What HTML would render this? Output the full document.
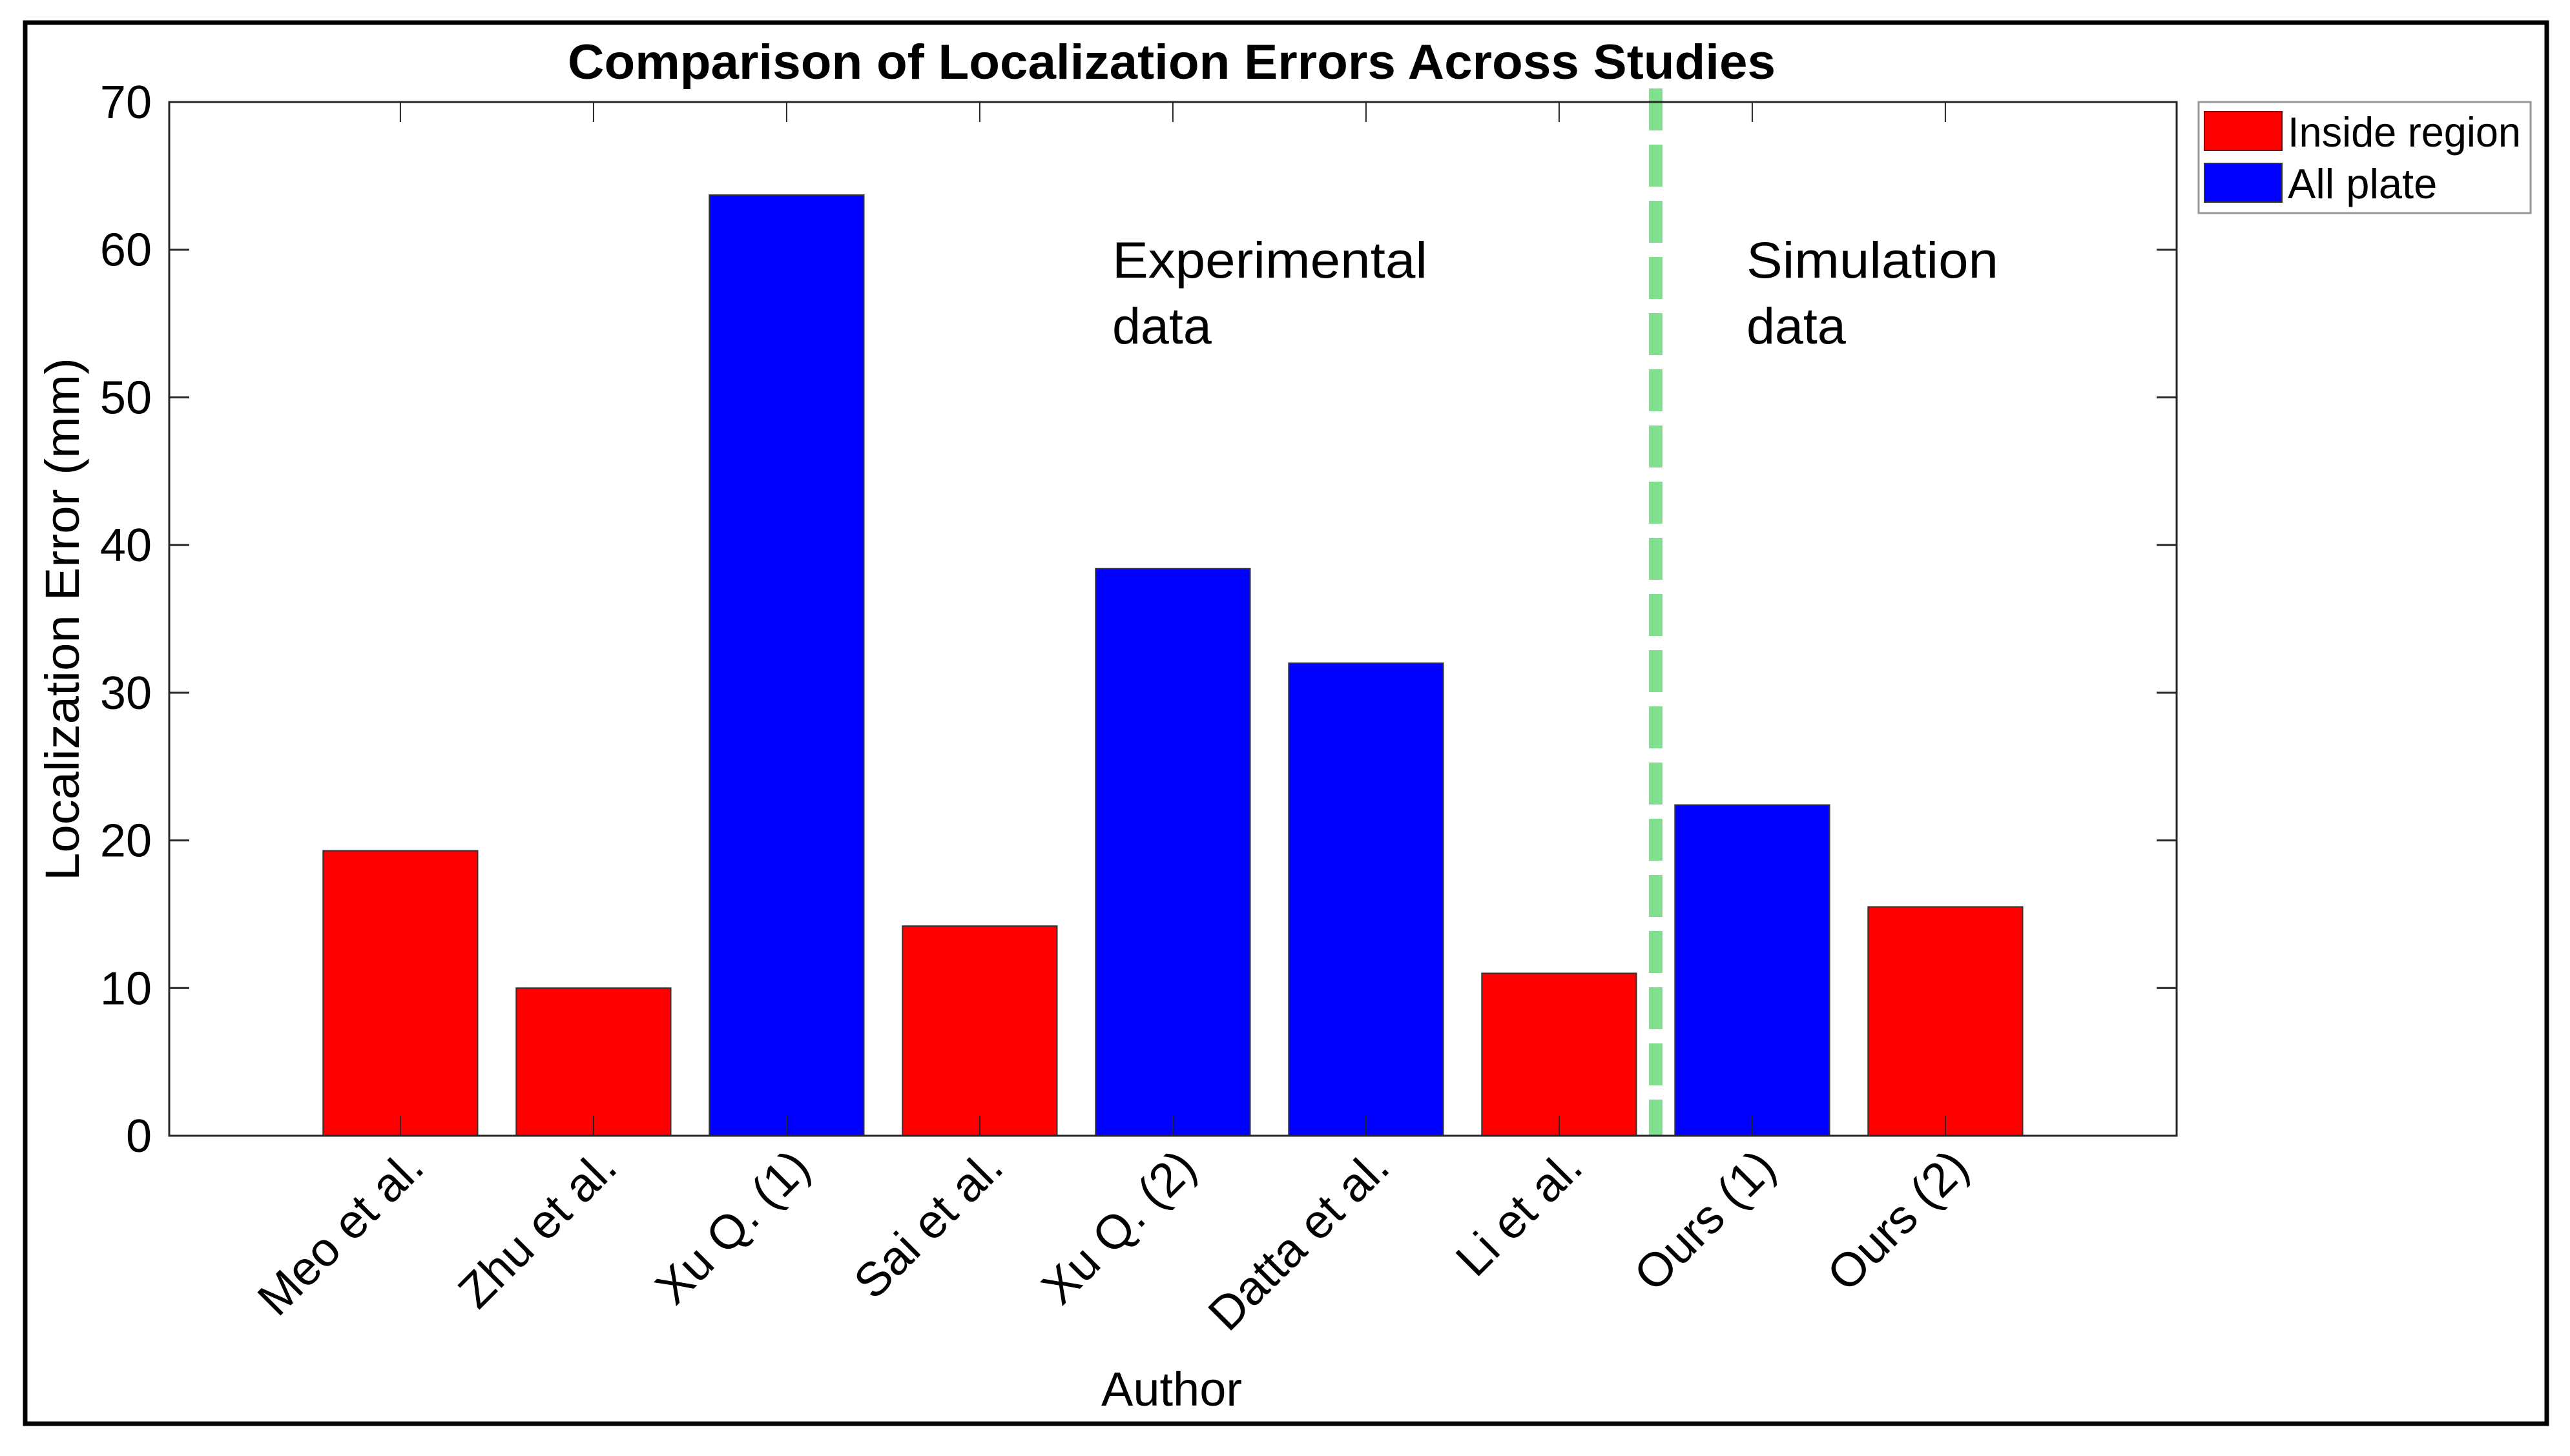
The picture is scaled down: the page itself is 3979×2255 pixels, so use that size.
<!DOCTYPE html>
<html><head><meta charset="utf-8"><style>
html,body{margin:0;padding:0;background:#fff;}
svg{display:block;}
text{font-family:"Liberation Sans",Arial,sans-serif;fill:#000;}
</style></head><body>
<svg id="chart" width="3979" height="2255" viewBox="0 0 3979 2255" xmlns="http://www.w3.org/2000/svg">
<rect x="0" y="0" width="3979" height="2255" fill="#fff"/>
<rect x="39" y="35" width="3904" height="2170" fill="none" stroke="#000" stroke-width="7"/>
<text x="1814" y="122" font-size="76" font-weight="bold" text-anchor="middle" textLength="1870" lengthAdjust="spacingAndGlyphs">Comparison of Localization Errors Across Studies</text>
<g id="plot"></g>
<text transform="translate(122,959) rotate(-90)" font-size="74" text-anchor="middle" textLength="810" lengthAdjust="spacingAndGlyphs" fill="#262626">Localization Error (mm)</text>
<text x="1814" y="2177" font-size="74" text-anchor="middle" fill="#262626">Author</text>
<text x="1722" y="430" font-size="79" textLength="488" lengthAdjust="spacingAndGlyphs">Experimental</text>
<text x="1722" y="532" font-size="79">data</text>
<text x="2704" y="430" font-size="79" textLength="390" lengthAdjust="spacingAndGlyphs">Simulation</text>
<text x="2704" y="532" font-size="79">data</text>
<g>
<rect x="3404" y="158" width="514" height="172" fill="#fff" stroke="#999" stroke-width="3"/>
<rect x="3413" y="173" width="120" height="60" fill="#ff0000" stroke="#8a0000" stroke-width="2"/>
<text x="3542" y="227" font-size="65" textLength="361" lengthAdjust="spacingAndGlyphs">Inside region</text>
<rect x="3413" y="253" width="120" height="60" fill="#0000ff" stroke="#333" stroke-width="2"/>
<text x="3542" y="307" font-size="65">All plate</text>
</g>
</svg>
<script>
const categories = ["Meo et al.","Zhu et al.","Xu Q. (1)","Sai et al.","Xu Q. (2)","Datta et al.","Li et al.","Ours (1)","Ours (2)"];
const values = [19.3, 10.0, 63.7, 14.2, 38.4, 32.0, 11.0, 22.4, 15.5];
const groups = ["Inside region","Inside region","All plate","Inside region","All plate","All plate","Inside region","All plate","Inside region"];
const yTicks = [0,10,20,30,40,50,60,70];
const dividerPosition = 7.5;

const NS = "http://www.w3.org/2000/svg";
const L = 262, R = 3370, T = 158, B = 1759;
const xMin = -0.197, step = 299;
const yMax = 70;
function xs(i){ return L + (i - xMin) * step; }
function ys(v){ return B - v / yMax * (B - T); }
const plot = document.getElementById('plot');
function mk(tag, attrs, parent){ const e = document.createElementNS(NS, tag); for (const k in attrs) e.setAttribute(k, attrs[k]); (parent||plot).appendChild(e); return e; }

mk('rect', {x:L, y:T, width:R-L, height:B-T, fill:'#fff'});
const bw = 0.8 * step;
categories.forEach((c, i) => {
  const cx = xs(i + 1);
  const r = mk('rect', {x:cx - bw/2, y:ys(values[i]), width:bw, height:B - ys(values[i]), fill: groups[i] === 'All plate' ? '#0000ff' : '#ff0000', stroke:'#333', 'stroke-width':2});
  
  
});
// divider
const dv = mk('line', {x1:xs(dividerPosition), x2:xs(dividerPosition), y1:137, y2:B, stroke:'#80e08f', 'stroke-width':21, 'stroke-dasharray':'65 22'});


// axes box
const ax = mk('rect', {x:L, y:T, width:R-L, height:B-T, fill:'none', stroke:'#262626', 'stroke-width':3});


// y ticks
yTicks.forEach(v => {
  const y = ys(v);
  mk('line', {x1:L, x2:L+31, y1:y, y2:y, stroke:'#262626', 'stroke-width':3});
  mk('line', {x1:R, x2:R-31, y1:y, y2:y, stroke:'#262626', 'stroke-width':3});
  const t = mk('text', {x:L-27, y:y+25, 'font-size':72, 'text-anchor':'end', fill:'#262626'});
  t.textContent = v;
  
  
});
// x ticks and labels
categories.forEach((c, i) => {
  const x = xs(i + 1);
  mk('line', {x1:x, x2:x, y1:B, y2:B-31, stroke:'#262626', 'stroke-width':2});
  mk('line', {x1:x, x2:x, y1:T, y2:T+31, stroke:'#262626', 'stroke-width':2});
  const t = mk('text', {transform:'translate(' + (x + 40) + ',1812) rotate(-45)', 'font-size':74, 'text-anchor':'end', fill:'#262626'});
  t.textContent = c;
  
  
});
</script>
</body></html>
